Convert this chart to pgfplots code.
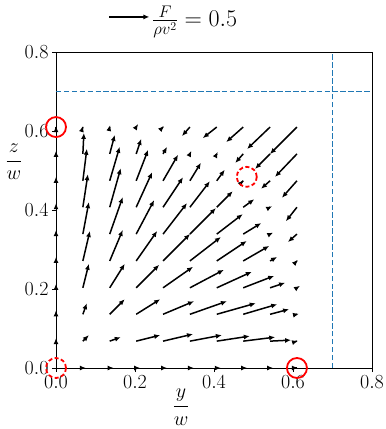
\RequirePackage{fix-cm}
\documentclass[border=0pt]{standalone}
\usepackage{amsmath}
\usepackage{pgfplots}
\pgfplotsset{compat=1.18}
\usetikzlibrary{arrows.meta}
\definecolor{mplblue}{HTML}{1F77B4}

\begin{document}
\begin{tikzpicture}[font=\fontsize{20}{24}\selectfont]
\useasboundingbox (-56pt,-61pt) rectangle (330pt,368pt);
\begin{axis}[
  scale only axis, width=316pt, height=316pt,
  xmin=0, xmax=0.8, ymin=0, ymax=0.8,
  xtick={0,0.2,0.4,0.6,0.8}, ytick={0,0.2,0.4,0.6,0.8},
  xticklabel style={/pgf/number format/.cd, fixed, fixed zerofill, precision=1},
  yticklabel style={/pgf/number format/.cd, fixed, fixed zerofill, precision=1},
  tick align=outside, major tick length=4pt,
  xtick pos=bottom, ytick pos=left,
  tick style={black, line width=0.8pt},
  axis line style={line width=0.8pt},
  clip=false,
  xlabel={$\displaystyle\frac{y}{w}$},
  ylabel={$\displaystyle\frac{z}{w}$},
  xlabel style={at={(axis description cs:0.396,-0.124)}, anchor=center},
  ylabel style={at={(axis description cs:-0.133,0.652)}, rotate=-90, anchor=center},
  legend style={at={(axis description cs:0.166,1.111)}, anchor=west,
    draw=none, fill=none, inner sep=0pt, font=\fontsize{24}{28}\selectfont},
]
% quiver field, arrow components in units of F/(rho v^2)
\addplot[black, line width=1.5pt, -{Latex[length=6pt,width=5pt]},
  quiver={u=\thisrow{u}, v=\thisrow{v}, scale arrows=0.2025},
  legend image code/.code={\draw[black, line width=1.5pt, -{Latex[length=6pt,width=5pt]}] (0pt,0pt) -- (40pt,0pt);}]
table[row sep=\\] {
x y u v \\
0.068 0 0.038 0 \\
0.136 0 0.05 0 \\
0.203 0 0.05 0 \\
0.271 0 0.05 0 \\
0.339 0 0.05 0 \\
0.407 0 0.05 0 \\
0.474 0 0.05 0 \\
0.542 0 0.038 0 \\
0.610 0 0.013 0 \\
0 0.068 0 0.038 \\
0 0.136 0 0.05 \\
0 0.203 0 0.05 \\
0 0.271 0 0.05 \\
0 0.339 0 0.05 \\
0 0.407 0 0.05 \\
0 0.474 0 0.05 \\
0 0.542 0 0.038 \\
0 0.610 0 0.013 \\
0.068 0.068 0.075 0.075 \\
0.136 0.068 0.138 0.05 \\
0.203 0.068 0.3 0.075 \\
0.271 0.068 0.375 0.088 \\
0.339 0.068 0.4 0.075 \\
0.407 0.068 0.413 0.063 \\
0.474 0.068 0.4 0.05 \\
0.542 0.068 0.263 0.013 \\
0.610 0.068 0.013 0.004 \\
0.068 0.136 0.05 0.138 \\
0.136 0.136 0.188 0.188 \\
0.203 0.136 0.3 0.188 \\
0.271 0.136 0.388 0.163 \\
0.339 0.136 0.463 0.163 \\
0.407 0.136 0.488 0.138 \\
0.474 0.136 0.425 0.125 \\
0.542 0.136 0.238 0.063 \\
0.610 0.136 0.025 0.006 \\
0.068 0.203 0.075 0.3 \\
0.136 0.203 0.188 0.3 \\
0.203 0.203 0.288 0.288 \\
0.271 0.203 0.375 0.263 \\
0.339 0.203 0.425 0.225 \\
0.407 0.203 0.438 0.2 \\
0.474 0.203 0.388 0.15 \\
0.542 0.203 0.188 0.063 \\
0.610 0.203 0.038 0.025 \\
0.068 0.271 0.088 0.375 \\
0.136 0.271 0.163 0.388 \\
0.203 0.271 0.263 0.375 \\
0.271 0.271 0.338 0.338 \\
0.339 0.271 0.388 0.3 \\
0.407 0.271 0.375 0.25 \\
0.474 0.271 0.325 0.188 \\
0.542 0.271 0.088 0.05 \\
0.610 0.271 0.013 0.013 \\
0.068 0.339 0.075 0.4 \\
0.136 0.339 0.163 0.463 \\
0.203 0.339 0.225 0.425 \\
0.271 0.339 0.3 0.388 \\
0.339 0.339 0.325 0.325 \\
0.407 0.339 0.325 0.25 \\
0.474 0.339 0.225 0.138 \\
0.542 0.339 0.038 0.019 \\
0.610 0.339 -0.113 -0.1 \\
0.068 0.407 0.063 0.413 \\
0.136 0.407 0.138 0.488 \\
0.203 0.407 0.2 0.438 \\
0.271 0.407 0.25 0.375 \\
0.339 0.407 0.25 0.325 \\
0.407 0.407 0.2 0.2 \\
0.474 0.407 0.138 0.1 \\
0.542 0.407 0.025 0.013 \\
0.610 0.407 -0.138 -0.175 \\
0.068 0.474 0.05 0.4 \\
0.136 0.474 0.125 0.425 \\
0.203 0.474 0.15 0.388 \\
0.271 0.474 0.188 0.325 \\
0.339 0.474 0.138 0.225 \\
0.407 0.474 0.1 0.138 \\
0.474 0.474 0.006 0.006 \\
0.542 0.474 -0.113 -0.1 \\
0.610 0.474 -0.188 -0.213 \\
0.068 0.542 0.013 0.263 \\
0.136 0.542 0.063 0.238 \\
0.203 0.542 0.063 0.188 \\
0.271 0.542 0.05 0.088 \\
0.339 0.542 0.019 0.038 \\
0.407 0.542 0.013 0.025 \\
0.474 0.542 -0.1 -0.113 \\
0.542 0.542 -0.188 -0.188 \\
0.610 0.542 -0.275 -0.288 \\
0.068 0.610 0.004 0.013 \\
0.136 0.610 0.006 0.025 \\
0.203 0.610 0.025 0.038 \\
0.271 0.610 0.013 0.013 \\
0.339 0.610 -0.1 -0.113 \\
0.407 0.610 -0.175 -0.138 \\
0.474 0.610 -0.213 -0.188 \\
0.542 0.610 -0.288 -0.275 \\
0.610 0.610 -0.338 -0.338 \\
};
\addlegendentry{$\frac{F}{\rho v^2} = 0.5$}

% reference lines
\addplot[mplblue, line width=1.5pt, dash pattern=on 5.5pt off 2.4pt, forget plot]
  coordinates {(0,0.7) (0.8,0.7)};
\addplot[mplblue, line width=1.5pt, dash pattern=on 5.5pt off 2.4pt, forget plot]
  coordinates {(0.7,0) (0.7,0.8)};

% marked points
\addplot[only marks, mark=o, mark size=10pt, red, forget plot,
  mark options={line width=1.8pt, solid}]
  coordinates {(0,0.61) (0.61,0)};
\addplot[only marks, mark=o, mark size=10pt, red, forget plot,
  mark options={line width=1.8pt, dash pattern=on 4pt off 2.5pt}]
  coordinates {(0,0) (0.483,0.484)};
\end{axis}
\end{tikzpicture}
\end{document}
